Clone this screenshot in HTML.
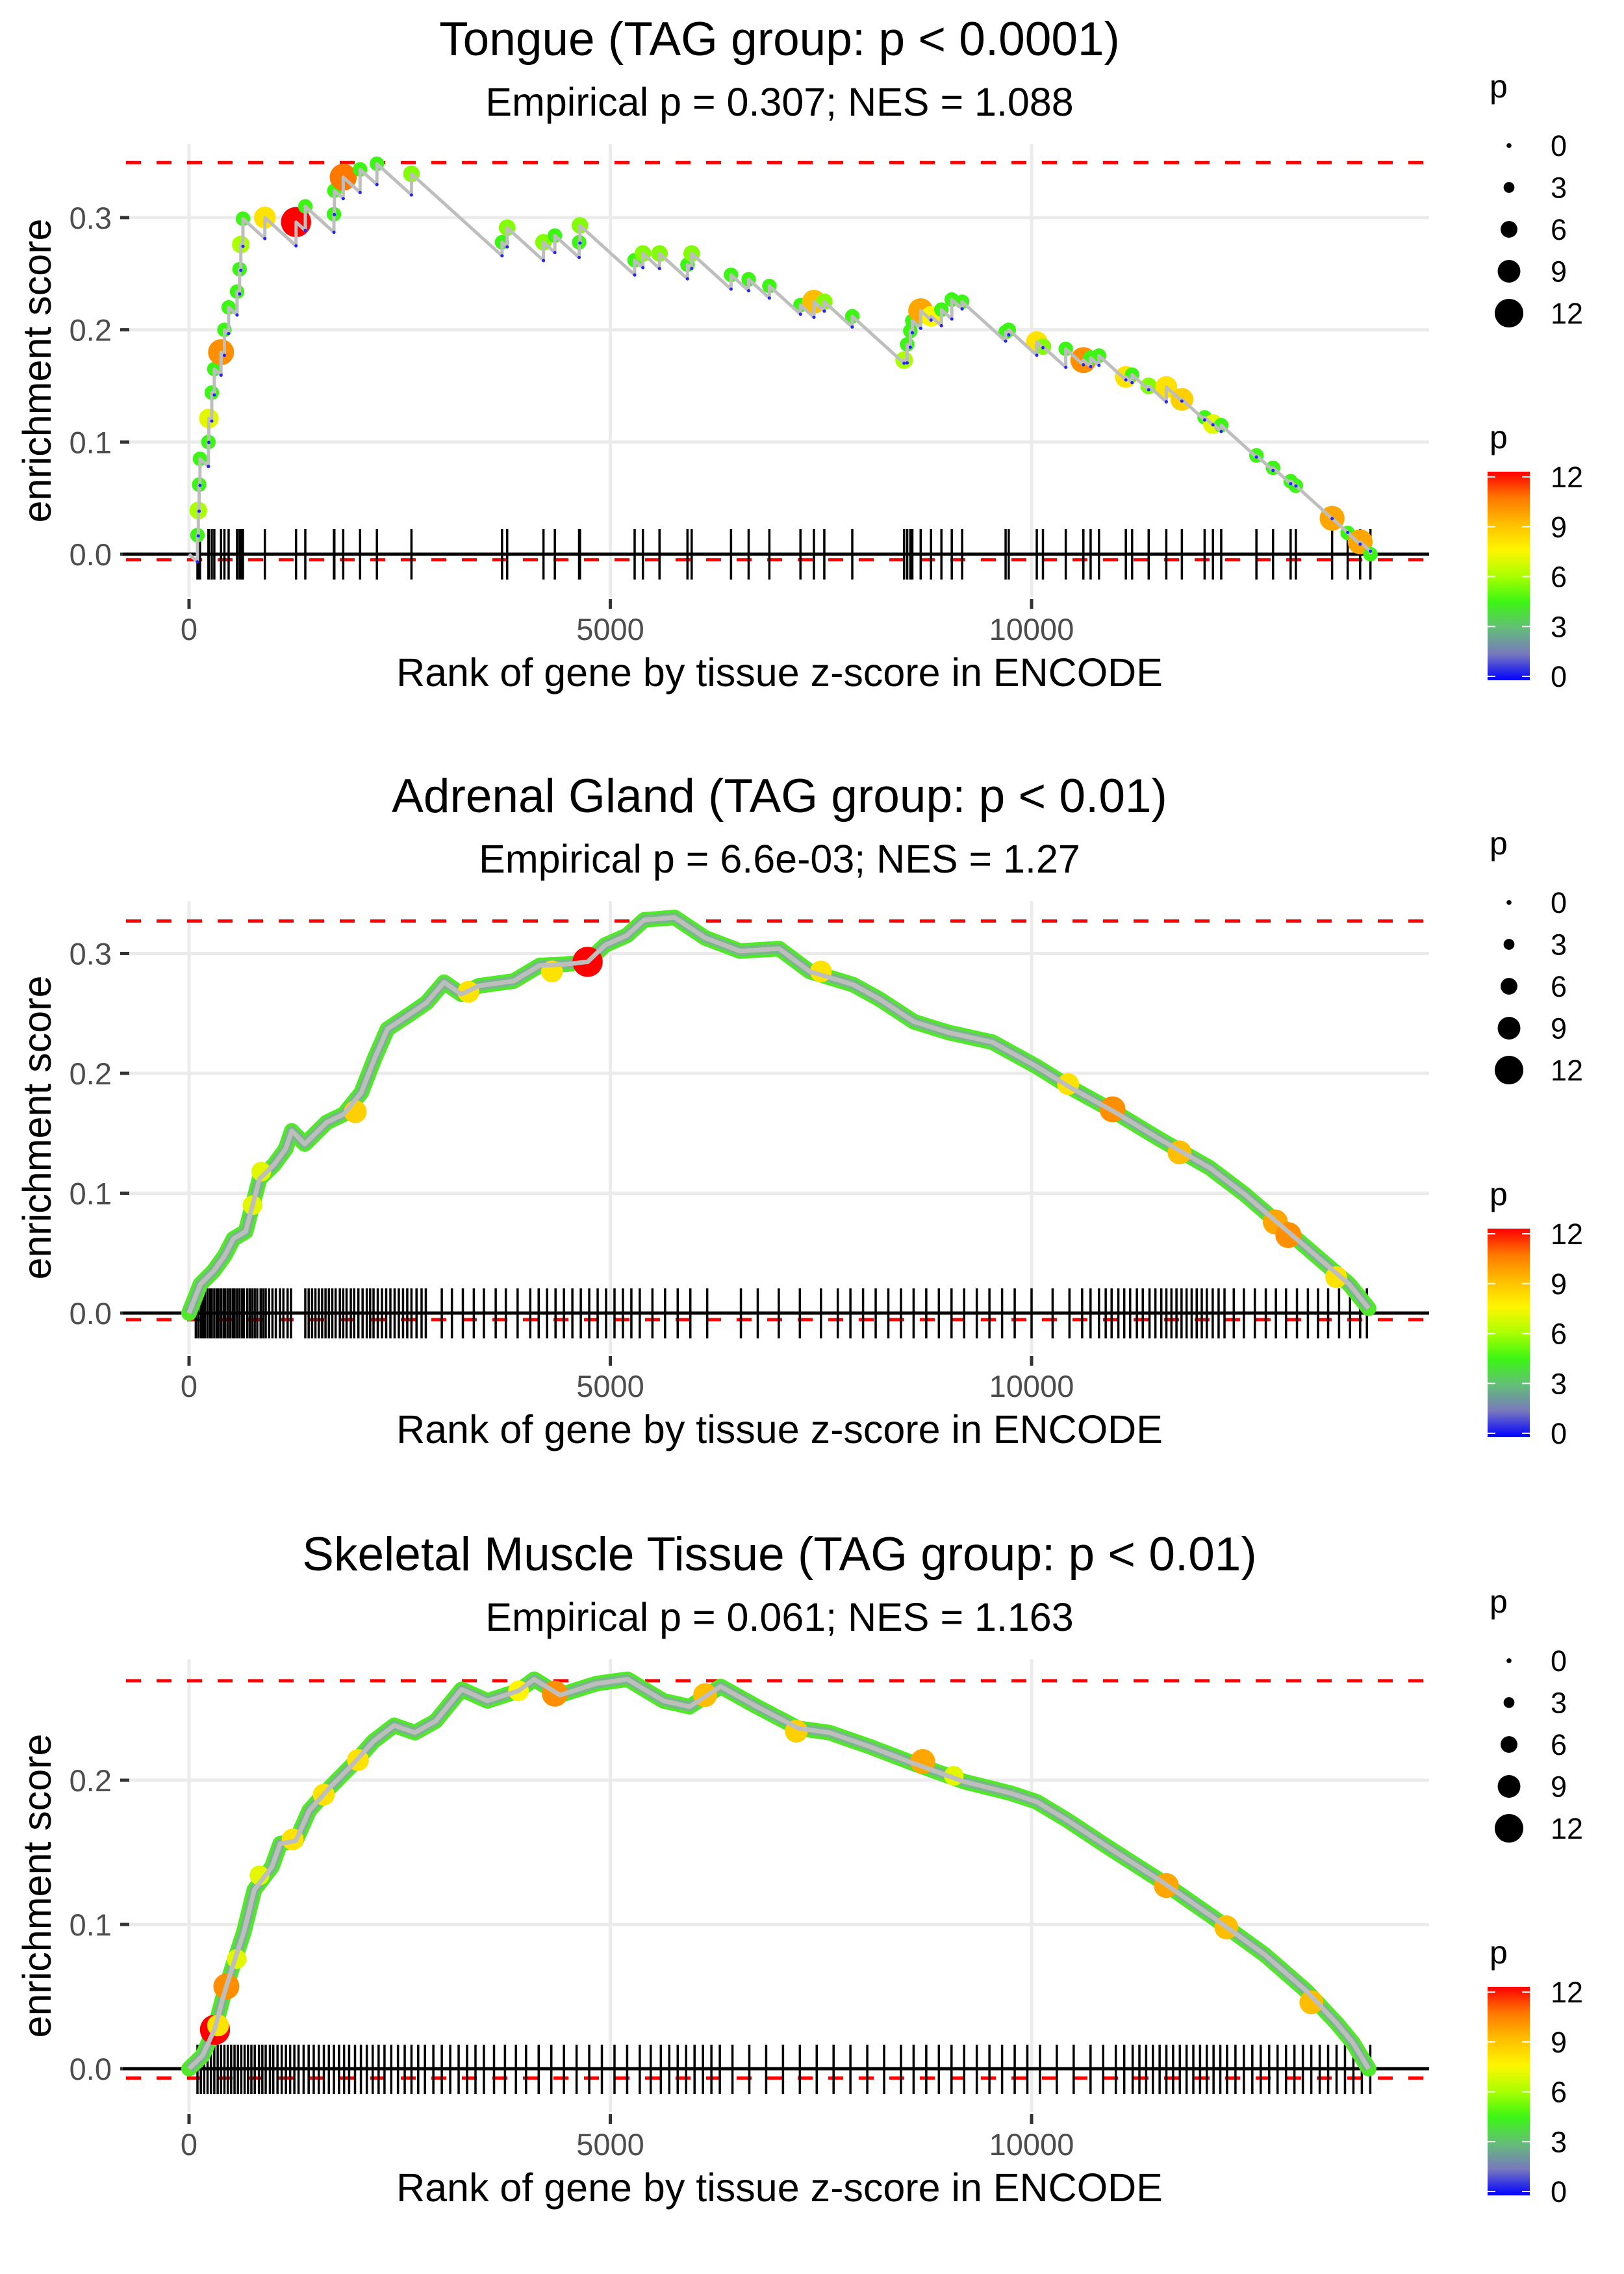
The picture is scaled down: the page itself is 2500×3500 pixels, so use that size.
<!DOCTYPE html>
<html><head><meta charset="utf-8">
<style>
html,body{margin:0;padding:0;background:#fff;}
svg{display:block;font-family:"Liberation Sans",sans-serif;}
</style></head>
<body>
<svg id="chart" width="2500" height="3500" viewBox="0 0 2500 3500" xmlns="http://www.w3.org/2000/svg"></svg>
<script>
// ---------- Panel 1: Tongue ----------
const p1Titles = ["Tongue (TAG group: p < 0.0001)", "Empirical p = 0.307; NES = 1.088"];
const p1Ranks = [100,110,120,130,230,235,270,300,380,420,470,570,600,615,640,900,1270,1380,1720,1725,1830,2030,2230,2640,3715,3776,4207,4342,4630,4640,5289,5387,5584,5916,5966,6433,6642,6888,7257,7417,7540,7872,8487,8524,8561,8585,8684,8807,8930,9053,9176,9692,9729,10062,10135,10406,10615,10701,10800,11119,11193,11390,11599,11784,12054,12153,12251,12669,12866,13075,13137,13567,13752,13900,14022];
const p1ES = [0.017,0.039,0.062,0.085,0.100,0.121,0.144,0.165,0.180,0.200,0.220,0.234,0.254,0.276,0.299,0.300,0.296,0.310,0.303,0.324,0.336,0.343,0.348,0.339,0.278,0.291,0.278,0.284,0.278,0.293,0.262,0.268,0.268,0.258,0.268,0.249,0.245,0.239,0.222,0.225,0.225,0.212,0.173,0.187,0.199,0.208,0.217,0.212,0.218,0.227,0.225,0.198,0.200,0.189,0.185,0.183,0.173,0.175,0.177,0.158,0.160,0.150,0.149,0.138,0.122,0.116,0.115,0.088,0.077,0.065,0.061,0.032,0.019,0.011,0.0];
const p1P = [4.5,6,4.5,4.5,4.5,7,4.5,4.5,10,4.5,4.5,4.5,4.5,6,4.5,8,12,4.5,4.5,4.5,10.5,4.5,4.5,5.5,4.5,5.5,5.5,4.5,4.5,5.5,4.5,5.5,5.5,4.5,5.5,4.5,4.5,4.5,4.5,9,5.5,4.5,6,4.5,4.5,4.5,9.5,7.5,4.5,4.5,4.5,4.5,4.5,8,5.5,4.5,10,4.5,4.5,8,4.5,5.5,8,8.5,4.5,7,4.5,4.5,4.5,4.5,4.5,9.5,4.5,9.5,4.5];
const p1YTicks = [0.0,0.1,0.2,0.3];
const p1Limits = [0.349,-0.005];

// ---------- Panel 2: Adrenal Gland ----------
const p2Titles = ["Adrenal Gland (TAG group: p < 0.01)", "Empirical p = 6.6e-03; NES = 1.27"];
const p2CurveRanks = [0,134,290,424,527,672,754,837,1012,1147,1219,1374,1632,1839,2045,2200,2355,2614,2820,3027,3233,3440,3853,4163,4473,4731,4938,5196,5403,5764,6126,6539,7004,7366,7882,8192,8605,9018,9535,10052,10465,10981,11498,12118,12531,12944,13357,13770,14000];
const p2CurveES = [0,0.024,0.035,0.048,0.062,0.068,0.090,0.112,0.124,0.137,0.152,0.141,0.159,0.166,0.184,0.212,0.237,0.249,0.259,0.276,0.266,0.273,0.277,0.290,0.291,0.293,0.307,0.315,0.328,0.330,0.313,0.302,0.304,0.285,0.274,0.262,0.243,0.234,0.226,0.206,0.188,0.168,0.146,0.121,0.099,0.074,0.049,0.024,0.004];
const p2HitRanks = [754,857,1973,3316,4308,4731,7500,10434,10961,11756,12893,13048,13616];
const p2HitES = [0.090,0.118,0.168,0.268,0.285,0.293,0.285,0.191,0.170,0.134,0.076,0.065,0.030];
const p2HitP = [7,7,8.5,8,8,12,8,8,10,9,9.5,10,8];
const p2Rug = [80,110,140,165,190,220,250,270,300,330,350,380,410,430,460,490,520,540,570,600,630,650,690,720,750,780,810,850,880,910,950,990,1030,1080,1120,1170,1210,1380,1420,1460,1500,1540,1580,1620,1660,1700,1740,1790,1830,1870,1920,1960,2010,2060,2110,2150,2190,2240,2290,2340,2390,2440,2490,2540,2590,2640,2700,2760,2810,3000,3120,3250,3380,3500,3640,3760,3900,4050,4150,4250,4350,4450,4550,4650,4750,4850,4950,5050,5150,5250,5350,5500,5650,5800,5950,6150,6550,6750,7000,7250,7500,7700,7850,8000,8150,8300,8450,8600,8750,8900,9050,9200,9350,9500,9650,9800,10000,10250,10450,10600,10700,10800,10880,10950,11030,11100,11170,11250,11320,11400,11470,11540,11600,11660,11720,11780,11840,11900,11960,12020,12080,12150,12220,12290,12400,12520,12650,12780,12900,13020,13150,13280,13400,13520,13650,13780,13900,13980];
const p2YTicks = [0.0,0.1,0.2,0.3];
const p2Limits = [0.327,-0.0055];

// ---------- Panel 3: Skeletal Muscle Tissue ----------
const p3Titles = ["Skeletal Muscle Tissue (TAG group: p < 0.01)", "Empirical p = 0.061; NES = 1.163"];
const p3CurveRanks = [0,160,308,406,529,652,775,984,1082,1267,1427,1673,1943,2189,2435,2681,2927,3235,3542,3911,4096,4403,4834,5203,5633,5941,6310,6740,7232,7601,8093,8585,9200,9754,10062,10431,10923,11538,12153,12768,13260,13629,13813,14000];
const p3CurveES = [0,0.009,0.028,0.050,0.073,0.095,0.124,0.140,0.156,0.158,0.179,0.195,0.211,0.227,0.238,0.233,0.241,0.263,0.255,0.262,0.270,0.259,0.267,0.270,0.255,0.251,0.265,0.251,0.236,0.233,0.223,0.212,0.199,0.191,0.185,0.172,0.153,0.130,0.105,0.079,0.054,0.031,0.018,0.0];
const p3HitRanks = [308,344,443,566,836,1230,1599,2005,3911,4342,6125,7208,8708,9077,11599,12312,13321];
const p3HitES = [0.027,0.030,0.057,0.076,0.134,0.159,0.190,0.214,0.262,0.260,0.259,0.234,0.213,0.203,0.127,0.098,0.046];
const p3HitP = [12,8,10,7,7,8,8,8,7.5,10,9,8.5,9.5,7,9.5,9,9];
const p3Rug = [100,140,180,220,260,300,340,380,420,460,500,540,580,620,660,700,740,780,830,870,910,960,1000,1050,1100,1150,1200,1250,1300,1360,1420,1480,1540,1600,1660,1720,1780,1840,1900,1970,2040,2110,2180,2250,2320,2400,2480,2560,2640,2720,2800,2900,3000,3100,3200,3300,3400,3500,3620,3750,3880,4000,4150,4300,4450,4600,4750,4900,5050,5200,5350,5480,5600,5700,5800,5900,6000,6100,6200,6300,6450,6650,6850,7050,7250,7450,7650,7850,8050,8250,8450,8600,8750,8900,9050,9200,9350,9500,9650,9800,9950,10100,10300,10500,10700,10850,11000,11100,11200,11280,11360,11440,11520,11600,11680,11760,11840,11920,12000,12080,12160,12240,12320,12420,12520,12620,12720,12820,12920,13020,13120,13220,13320,13420,13520,13620,13720,13820,13920,14020];
const p3YTicks = [0.0,0.1,0.2];
const p3Limits = [0.269,-0.0065];

const xTicks = [0,5000,10000];
const legendSizes = [0,3,6,9,12];
const colorTicks = [0,3,6,9,12];

const NS = "http://www.w3.org/2000/svg";
const svg = document.getElementById("chart");
function mk(tag, attrs, parent){
  const e = document.createElementNS(NS, tag);
  for (const k in attrs) e.setAttribute(k, attrs[k]);
  (parent||svg).appendChild(e);
  return e;
}
const stops = [[0,[0,0,255]],[1.5,[120,120,190]],[3,[100,190,120]],[4.5,[60,245,20]],[6,[170,255,0]],[7.5,[255,245,0]],[9,[255,190,0]],[10.5,[255,120,0]],[12,[255,0,0]]];
function pcol(p){
  if (p<=0) return "rgb(0,0,255)";
  for (let i=1;i<stops.length;i++){
    if (p<=stops[i][0]){
      const a=stops[i-1], b=stops[i], t=(p-a[0])/(b[0]-a[0]);
      const c=a[1].map((v,j)=>Math.round(v+(b[1][j]-v)*t));
      return "rgb("+c.join(",")+")";
    }
  }
  return "rgb(255,0,0)";
}
function prad(p){ return 4 + p*1.6; }

const X0 = 291, XS = 0.1297, PL = 189, PR = 2200;
function xScale(r){ return X0 + r*XS; }

function drawPanel(idx, off, y0, ys, titles, yTicks, limits){
  const yScale = v => y0 - v*ys;
  const g = mk("g", {}); 
  
  
  const top = off + 222, bot = off + 919;
  xTicks.forEach(t=>{
    const l = mk("line",{x1:xScale(t),x2:xScale(t),y1:top,y2:bot,stroke:"#ebebeb","stroke-width":5},g);
    
    
  });
  yTicks.forEach(t=>{
    const l = mk("line",{x1:PL,x2:PR,y1:yScale(t),y2:yScale(t),stroke:"#ebebeb","stroke-width":5},g);
    
    
  });
  const t1 = mk("text",{x:1200,y:off+85,"text-anchor":"middle","font-size":73,fill:"#000"},g);
  t1.textContent = titles[0];
  
  
  const t2 = mk("text",{x:1200,y:off+178,"text-anchor":"middle","font-size":61,fill:"#000"},g);
  t2.textContent = titles[1];
  
  
  xTicks.forEach(t=>{
    const tk = mk("line",{x1:xScale(t),x2:xScale(t),y1:off+922,y2:off+937,stroke:"#333","stroke-width":5},g);
    
    
    const lb = mk("text",{x:xScale(t),y:off+985,"text-anchor":"middle","font-size":47,fill:"#4d4d4d"},g);
    lb.textContent = String(t);
    
    
  });
  yTicks.forEach(t=>{
    const tk = mk("line",{x1:185,x2:199,y1:yScale(t),y2:yScale(t),stroke:"#333","stroke-width":5},g);
    
    
    const lb = mk("text",{x:172,y:yScale(t)+17,"text-anchor":"end","font-size":47,fill:"#4d4d4d"},g);
    lb.textContent = t.toFixed(1);
    
    
  });
  const xt = mk("text",{x:1200,y:off+1056,"text-anchor":"middle","font-size":61,fill:"#000"},g);
  xt.textContent = "Rank of gene by tissue z-score in ENCODE";
  
  
  const ycy = (top+bot)/2;
  const yt = mk("text",{x:0,y:0,"text-anchor":"middle","font-size":61,fill:"#000",transform:"translate(78,"+ycy+") rotate(-90)"},g);
  yt.textContent = "enrichment score";
  
  
  const zl = mk("line",{x1:PL,x2:PR,y1:y0,y2:y0,stroke:"#000","stroke-width":5},g);
  
  
  limits.forEach((v,i)=>{
    const d = mk("line",{x1:PL+5,x2:PR,y1:yScale(v),y2:yScale(v),stroke:"#ff0000","stroke-width":5,"stroke-dasharray":"23 24"},g);
    
    
  });
  return {g, yScale};
}

function drawRug(g, ranks, yTop, yBot){
  ranks.forEach(r=>{
    const l = mk("line",{x1:xScale(r),x2:xScale(r),y1:yTop,y2:yBot,stroke:"#000","stroke-width":3.5},g);
    
    
  });
}

function drawLegend(off){
  const g = mk("g",{});
  
  
  const st = mk("text",{x:2293,y:off+150,"font-size":50,fill:"#000"},g);
  st.textContent = "p";
  
  
  legendSizes.forEach((s,i)=>{
    const cy = off + 224 + i*64.5;
    const c = mk("circle",{cx:2323,cy:cy,r:prad(s)*0.95,fill:"#000"},g);
    
    
    const t = mk("text",{x:2387,y:cy+16,"font-size":45,fill:"#000"},g);
    t.textContent = String(s);
    
    
  });
  const ct = mk("text",{x:2293,y:off+690,"font-size":50,fill:"#000"},g);
  ct.textContent = "p";
  
  
  const barTop = off+726, barBot = off+1047;
  const r = mk("rect",{x:2290,y:barTop,width:65,height:barBot-barTop,fill:"url(#pgrad)"},g);
  
  
  colorTicks.forEach(v=>{
    const y = barBot-6 - (v/12)*(barBot-barTop-14);
    const a = mk("line",{x1:2290,x2:2302,y1:y,y2:y,stroke:"#fff","stroke-width":2},g);
    
    
    const b = mk("line",{x1:2343,x2:2355,y1:y,y2:y,stroke:"#fff","stroke-width":2},g);
    
    
    const t = mk("text",{x:2387,y:y+16,"font-size":45,fill:"#000"},g);
    t.textContent = String(v);
    
    
  });
}

const defs = mk("defs",{});
const lg = mk("linearGradient",{id:"pgrad",x1:0,y1:1,x2:0,y2:0},defs);
stops.forEach(s=>{
  mk("stop",{offset:(s[0]/12),"stop-color":"rgb("+s[1].join(",")+")"},lg);
});

(function(){
  const off = 0;
  const P = drawPanel(1, off, 853, 1727, p1Titles, p1YTicks, p1Limits);
  const g = P.g, yS = P.yScale;
  drawRug(g, p1Ranks, off+814, off+892);
  const D = 6.8e-5;
  let pr = 0, pe = 0;
  const lows = [];
  let d = "M"+xScale(0)+","+yS(0);
  p1Ranks.forEach((r,i)=>{
    const low = pe - D*(r-pr);
    d += " L"+xScale(r)+","+yS(low)+" L"+xScale(r)+","+yS(p1ES[i]);
    lows.push([r,low]);
    pr = r; pe = p1ES[i];
  });
  p1Ranks.forEach((r,i)=>{
    const c = mk("circle",{cx:xScale(r),cy:yS(p1ES[i]),r:prad(p1P[i]),fill:pcol(p1P[i])},g);
    
    
  });
  const path = mk("path",{d:d,fill:"none",stroke:"#bebebe","stroke-width":5,"stroke-linejoin":"round"},g);
  
  
  lows.forEach(l=>{
    const c = mk("circle",{cx:xScale(l[0]),cy:yS(l[1]),r:2.5,fill:"#2222ff"},g);
    
    
  });
  drawLegend(off);
})();

function curvePanel(idx, off, y0, ys, titles, yTicks, limits, cr, ce, hr, he, hp, rug, rugTop, rugBot){
  const P = drawPanel(idx, off, y0, ys, titles, yTicks, limits);
  const g = P.g, yS = P.yScale;
  drawRug(g, rug, rugTop, rugBot);
  let d = "";
  cr.forEach((r,i)=>{ d += (i? " L":"M")+xScale(r)+","+yS(ce[i]); });
  const band = mk("path",{d:d,fill:"none",stroke:"#50e828","stroke-width":24,"stroke-linejoin":"round","stroke-linecap":"round"},g);
  
  
  const band2 = mk("path",{d:d,fill:"none",stroke:"#78b888","stroke-width":15,"stroke-linejoin":"round"},g);
  
  
  hr.forEach((r,i)=>{
    const c = mk("circle",{cx:xScale(r),cy:yS(he[i]),r:prad(hp[i]),fill:pcol(hp[i])},g);
    
    
  });
  const line = mk("path",{d:d,fill:"none",stroke:"#bebebe","stroke-width":7,"stroke-linejoin":"round"},g);
  
  
  drawLegend(off);
}
curvePanel(2, 1165, 2021, 1845, p2Titles, p2YTicks, p2Limits, p2CurveRanks, p2CurveES, p2HitRanks, p2HitES, p2HitP, p2Rug, 1983, 2060);
curvePanel(3, 2332, 3184, 2220, p3Titles, p3YTicks, p3Limits, p3CurveRanks, p3CurveES, p3HitRanks, p3HitES, p3HitP, p3Rug, 3147, 3223);
</script>
</body></html>
